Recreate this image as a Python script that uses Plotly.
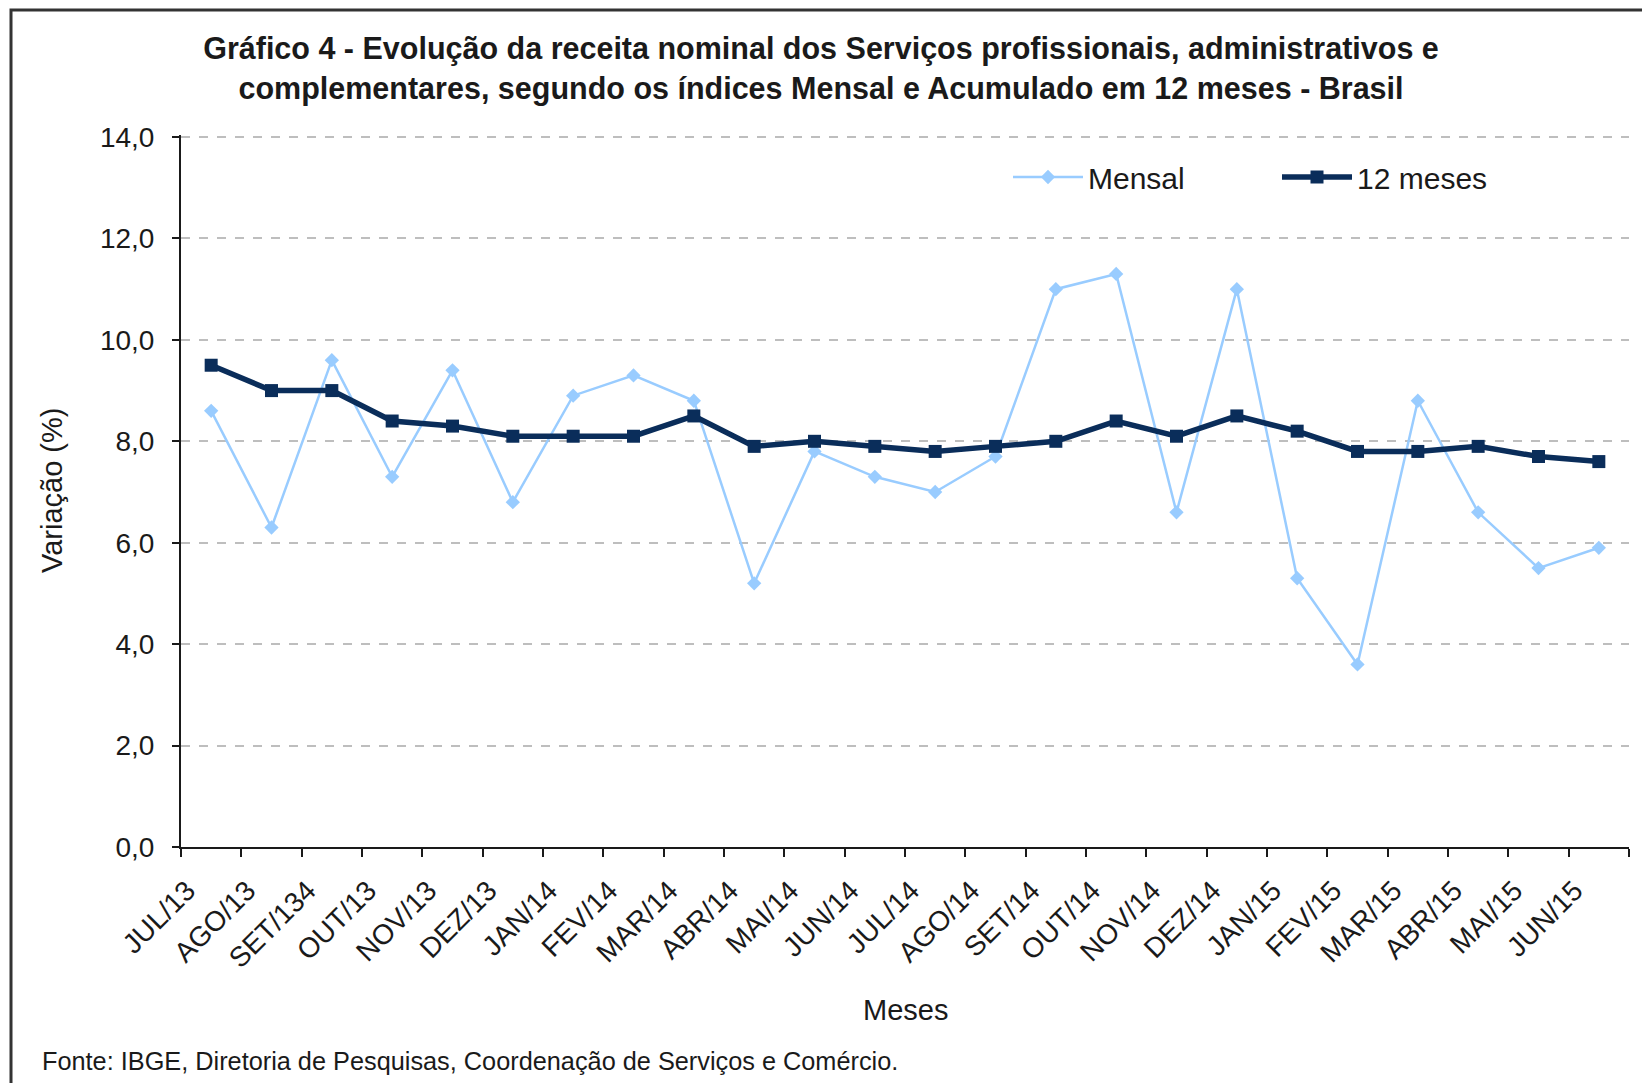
import plotly.graph_objects as go

months = ["JUL/13", "AGO/13", "SET/134", "OUT/13", "NOV/13", "DEZ/13", "JAN/14", "FEV/14",
          "MAR/14", "ABR/14", "MAI/14", "JUN/14", "JUL/14", "AGO/14", "SET/14", "OUT/14",
          "NOV/14", "DEZ/14", "JAN/15", "FEV/15", "MAR/15", "ABR/15", "MAI/15", "JUN/15"]
mensal = [8.6, 6.3, 9.6, 7.3, 9.4, 6.8, 8.9, 9.3, 8.8, 5.2, 7.8, 7.3, 7.0, 7.7,
          11.0, 11.3, 6.6, 11.0, 5.3, 3.6, 8.8, 6.6, 5.5, 5.9]
doze_meses = [9.5, 9.0, 9.0, 8.4, 8.3, 8.1, 8.1, 8.1, 8.5, 7.9, 8.0, 7.9, 7.8, 7.9,
              8.0, 8.4, 8.1, 8.5, 8.2, 7.8, 7.8, 7.9, 7.7, 7.6]
y_ticks = [0, 2, 4, 6, 8, 10, 12, 14]
y_tick_text = ["0,0", "2,0", "4,0", "6,0", "8,0", "10,0", "12,0", "14,0"]

W, H = 1642, 1083
L, R, T, B = 181, 13, 135, 236
pw, ph = W - L - R, H - T - B

def px_x(x):
    return (x - L) / pw

def px_y(y):
    return (H - B - y) / ph

idx = list(range(len(months)))
FONT = "Liberation Sans, Arial, sans-serif"
TXT = "#1a1a1a"

fig = go.Figure()
fig.add_trace(go.Scatter(
    x=idx, y=mensal, name="Mensal", mode="lines+markers",
    line=dict(color="#99CCFF", width=2.5),
    marker=dict(symbol="diamond", size=11, color="#99CCFF"),
))
fig.add_trace(go.Scatter(
    x=idx, y=doze_meses, name="12 meses", mode="lines+markers",
    line=dict(color="#0A2D5A", width=5.5),
    marker=dict(symbol="square", size=13, color="#0A2D5A"),
))

fig.update_layout(
    width=W, height=H,
    margin=dict(l=L, r=R, t=T, b=B, autoexpand=False),
    paper_bgcolor="white", plot_bgcolor="white",
    font=dict(family=FONT, color=TXT),
    title=dict(
        text="Gráfico 4 - Evolução da receita nominal dos Serviços profissionais, administrativos e<br>"
             "complementares, segundo os índices Mensal e Acumulado em 12 meses - Brasil",
        x=0.5, xanchor="center", xref="container",
        y=1 - 59 / H, yanchor="middle", yref="container",
        font=dict(size=30.5, family=FONT, color=TXT, weight="bold"),
    ),
    showlegend=True,
    legend=dict(
        orientation="h", x=px_x(1008), xanchor="left", y=px_y(177), yanchor="middle",
        font=dict(size=30, family=FONT, color=TXT),
        bgcolor="rgba(0,0,0,0)", itemwidth=70, tracegroupgap=0,
        entrywidth=184, entrywidthmode="pixels",
    ),
    xaxis=dict(
        range=[-0.5, len(months) - 0.5],
        tickmode="array", tickvals=[i - 0.4 for i in idx], ticktext=months,
        tickangle=-45, ticks="", showgrid=False, zeroline=False,
        tickfont=dict(size=28, family=FONT, color=TXT),
        ticklabelstandoff=14,
        showline=True, linecolor=TXT, linewidth=2,
        minor=dict(tick0=-0.5, dtick=1, ticks="outside", ticklen=8, tickwidth=2,
                   tickcolor=TXT, showgrid=False),
    ),
    yaxis=dict(
        range=[0, 14.04], tickmode="array", tickvals=y_ticks, ticktext=y_tick_text,
        ticks="outside", ticklen=7, tickwidth=2, tickcolor=TXT,
        showline=True, linecolor=TXT, linewidth=2,
        showgrid=True, gridcolor="#BEBEBE", gridwidth=1.5, griddash="dash",
        zeroline=False, ticklabelstandoff=12,
        tickfont=dict(size=28, family=FONT, color=TXT),
    ),
    shapes=[dict(type="rect", xref="paper", yref="paper",
                 x0=px_x(11), x1=1.2, y0=-0.5, y1=px_y(10),
                 line=dict(color="#333333", width=3))],
    annotations=[
        dict(text="Variação (%)", xref="paper", yref="paper", x=px_x(52), y=0.5,
             textangle=-90, showarrow=False, xanchor="center", yanchor="middle",
             font=dict(size=29, family=FONT, color=TXT)),
        dict(text="Meses", xref="paper", yref="paper", x=0.5, y=px_y(1010),
             showarrow=False, xanchor="center", yanchor="middle",
             font=dict(size=29, family=FONT, color=TXT)),
        dict(text="Fonte: IBGE, Diretoria de Pesquisas, Coordenação de Serviços e Comércio.",
             xref="paper", yref="paper", x=px_x(40), y=px_y(1061),
             showarrow=False, xanchor="left", yanchor="middle",
             font=dict(size=25.3, family=FONT, color=TXT)),
    ],
)

fig.write_html("out.html", config={"displayModeBar": False},
               post_script="document.body.style.margin='0';document.body.style.overflow='hidden';")
